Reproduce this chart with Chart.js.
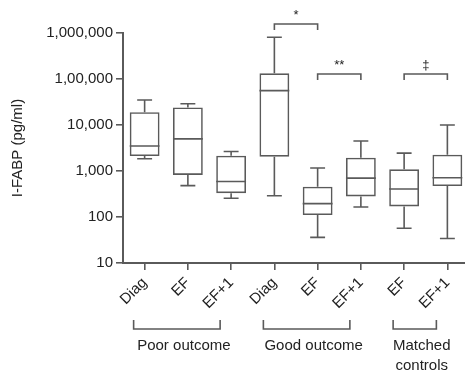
<!DOCTYPE html>
<html>
<head>
<meta charset="utf-8">
<script src="https://cdn.jsdelivr.net/npm/chart.js@4/dist/chart.umd.min.js"></script>
<style>
  body { margin: 0; overflow: hidden; background: #fff; }
  #wrap { width: 469px; height: 370px; }
</style>
</head>
<body>
<div id="wrap"><canvas id="boxChart"></canvas></div>
<script>
// box plot values (pg/ml), one entry per category
var categories  = ['Diag', 'EF', 'EF+1', 'Diag', 'EF', 'EF+1', 'EF', 'EF+1'];
var whiskerLow  = [1850, 480, 255, 290, 36, 165, 57, 34];
var q1          = [2120, 820, 330, 2050, 110, 280, 170, 470];
var median      = [3500, 5000, 590, 56000, 195, 700, 405, 715];
var q3          = [19000, 24000, 2150, 133000, 455, 1950, 1090, 2260];
var whiskerHigh = [35000, 29000, 2650, 810000, 1160, 4500, 2450, 10000];

var yTickValues = [10, 100, 1000, 10000, 100000, 1000000];
var yTickLabels = ['10', '100', '1,000', '10,000', '1,00,000', '1,000,000'];

// groups under the x axis
var groupLabels = [['Poor outcome'], ['Good outcome'], ['Matched', 'controls']];
var groupStart  = [0, 3, 6];
var groupEnd    = [2, 5, 7];

// significance brackets
var sigLabels = ['*', '**', '\u2021'];
var sigFrom   = [3, 4, 6];
var sigTo     = [4, 5, 7];
var sigLevel  = [1570000, 128000, 128000];

Chart.defaults.font.family = '"Liberation Sans", Arial, sans-serif';
Chart.defaults.color = '#222';

var lineCol = '#5a5a5a';

var boxExtras = {
    id: 'boxExtras',
    afterDatasetsDraw: function (chart) {
        var ctx = chart.ctx;
        var xs = chart.scales.x;
        var ys = chart.scales.y;
        var meta = chart.getDatasetMeta(0);
        ctx.save();
        ctx.strokeStyle = lineCol;
        ctx.lineWidth = 1.6;
        for (var i = 0; i < categories.length; i++) {
            var cx = xs.getPixelForValue(i);
            var hw = meta.data[i].width / 2;
            var cap = hw / 2;
            var yMed = ys.getPixelForValue(median[i]);
            var yHi = ys.getPixelForValue(whiskerHigh[i]);
            var yLo = ys.getPixelForValue(whiskerLow[i]);
            ctx.beginPath();
            ctx.moveTo(cx - hw, yMed); ctx.lineTo(cx + hw, yMed);
            ctx.moveTo(cx, ys.getPixelForValue(q3[i])); ctx.lineTo(cx, yHi);
            ctx.moveTo(cx - cap, yHi); ctx.lineTo(cx + cap, yHi);
            ctx.moveTo(cx, ys.getPixelForValue(q1[i])); ctx.lineTo(cx, yLo);
            ctx.moveTo(cx - cap, yLo); ctx.lineTo(cx + cap, yLo);
            ctx.stroke();
        }

        // significance brackets
        ctx.font = '13px "Liberation Sans", Arial, sans-serif';
        ctx.fillStyle = '#222';
        ctx.textAlign = 'center';
        ctx.textBaseline = 'middle';
        for (var s = 0; s < sigLabels.length; s++) {
            var x1 = xs.getPixelForValue(sigFrom[s]);
            var x2 = xs.getPixelForValue(sigTo[s]);
            var yb = ys.getPixelForValue(sigLevel[s]);
            ctx.beginPath();
            ctx.moveTo(x1, yb + 6); ctx.lineTo(x1, yb); ctx.lineTo(x2, yb); ctx.lineTo(x2, yb + 6);
            ctx.stroke();
            ctx.fillText(sigLabels[s], (x1 + x2) / 2, yb - 9);
        }

        // group brackets below the axis
        var base = chart.chartArea.bottom;
        ctx.font = '15px "Liberation Sans", Arial, sans-serif';
        for (var g = 0; g < groupLabels.length; g++) {
            var gx1 = xs.getPixelForValue(groupStart[g]) - 11;
            var gx2 = xs.getPixelForValue(groupEnd[g]) - 11;
            ctx.beginPath();
            ctx.moveTo(gx1, base + 57); ctx.lineTo(gx1, base + 66);
            ctx.lineTo(gx2, base + 66); ctx.lineTo(gx2, base + 57);
            ctx.stroke();
            var mid = (xs.getPixelForValue(groupStart[g]) + xs.getPixelForValue(groupEnd[g])) / 2 - 4;
            for (var k = 0; k < groupLabels[g].length; k++) {
                ctx.fillText(groupLabels[g][k], mid, base + 83 + k * 20);
            }
        }
        ctx.restore();
    }
};

var ctx = document.getElementById('boxChart').getContext('2d');
var myChart = new Chart(ctx, {
    type: 'bar',
    data: {
        labels: categories,
        datasets: [{
            label: 'I-FABP',
            data: q1.map(function (v, i) { return [v, q3[i]]; }),
            backgroundColor: 'rgba(255,255,255,0)',
            borderColor: lineCol,
            borderWidth: 1.6,
            borderSkipped: false,
            barPercentage: 0.69,
            categoryPercentage: 1.0
        }]
    },
    plugins: [boxExtras],
    options: {
        responsive: true,
        maintainAspectRatio: false,
        animation: false,
        layout: { padding: { top: 33, left: 0, right: 0, bottom: 0 } },
        plugins: {
            legend: { display: false },
            tooltip: { enabled: false }
        },
        scales: {
            x: {
                offset: true,
                grid: { display: true, offset: false, drawOnChartArea: false, tickLength: 7, color: lineCol, lineWidth: 1.6 },
                border: { display: true, color: lineCol, width: 2 },
                ticks: { minRotation: 45, maxRotation: 45, autoSkip: false, padding: 4, font: { size: 15 }, color: '#222' },
                afterFit: function (scale) { scale.height = 107; }
            },
            y: {
                type: 'logarithmic',
                min: 10,
                max: 1000000,
                grid: { display: true, drawOnChartArea: false, tickLength: 7, color: lineCol, lineWidth: 1.6 },
                border: { display: true, color: lineCol, width: 2 },
                afterBuildTicks: function (scale) {
                    scale.ticks = yTickValues.map(function (v) { return { value: v }; });
                },
                ticks: {
                    padding: 3,
                    font: { size: 15 },
                    color: '#222',
                    callback: function (value, index) { return yTickLabels[index]; }
                },
                title: {
                    display: true,
                    text: 'I-FABP (pg/ml)',
                    font: { size: 15 },
                    color: '#222',
                    padding: { top: 9, bottom: 0 }
                },
                afterFit: function (scale) { scale.width = 123; }
            }
        }
    }
});
</script>
</body>
</html>
